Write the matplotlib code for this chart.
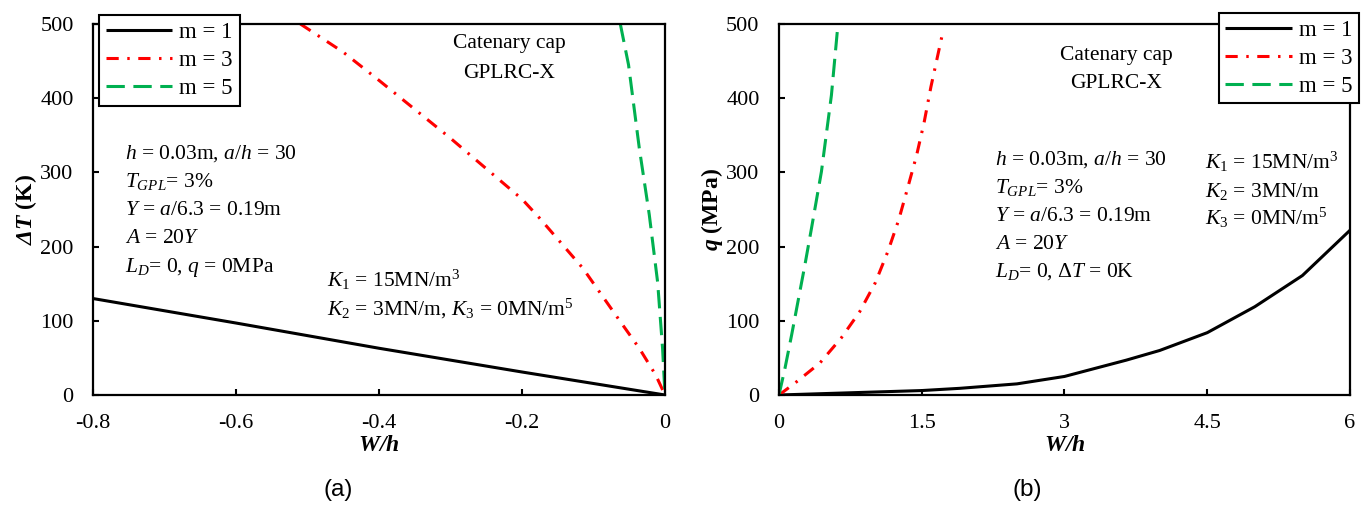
import matplotlib
matplotlib.use('Agg')
import matplotlib.pyplot as plt

# Panel (a): temperature rise vs deflection, q = 0
wa_m1 = [-0.8, -0.6, -0.4, -0.2, 0.0]
dT_m1 = [130, 97, 63, 31, 0]
wa_m3 = [-0.51, -0.45, -0.4, -0.3, -0.2, -0.176, -0.115, -0.064, -0.036, -0.013, 0.0]
dT_m3 = [500, 462, 424, 346, 264, 239, 171, 101, 63, 27, 0]
wa_m5 = [-0.0625, -0.051, -0.036, -0.022, -0.0103, -0.0034, 0.0]
dT_m5 = [500, 445, 333, 243, 152, 63, 0]

# Panel (b): load vs deflection, dT = 0
wb_m1 = [0.0, 0.75, 1.5, 1.9, 2.5, 3.0, 3.65, 4.0, 4.5, 5.0, 5.5, 6.0]
q_m1 = [0, 3, 6, 9, 15, 25, 47, 60, 84, 119, 161, 222]
wb_m3 = [0.0, 0.167, 0.429, 0.655, 0.847, 1.011, 1.143, 1.258, 1.352, 1.446, 1.526, 1.596, 1.718]
q_m3 = [0, 16, 43, 77, 112, 151, 193, 236, 279, 323, 368, 415, 487]
wb_m5 = [0.0, 0.063, 0.133, 0.272, 0.342, 0.446, 0.551, 0.62]
q_m5 = [0, 36, 81, 175, 225, 301, 404, 500]

labels = ['m = 1', 'm = 3', 'm = 5']
xticks_a = [-0.8, -0.6, -0.4, -0.2, 0.0]
xticklabels_a = ['-0.8', '-0.6', '-0.4', '-0.2', '0']
xticks_b = [0, 1.5, 3, 4.5, 6]
xticklabels_b = ['0', '1.5', '3', '4.5', '6']
yticks = [0, 100, 200, 300, 400, 500]

plt.rcParams['font.family'] = ['Liberation Serif', 'DejaVu Serif']
plt.rcParams['mathtext.fontset'] = 'custom'
plt.rcParams['mathtext.rm'] = 'Liberation Serif'
plt.rcParams['mathtext.it'] = 'Liberation Serif:italic'
plt.rcParams['mathtext.bf'] = 'Liberation Serif:bold'
plt.rcParams['mathtext.bfit'] = 'Liberation Serif:italic:bold'

FS = 15.5
LW = 2.2
styles = [dict(color='black', lw=LW, ls='-'),
          dict(color='#ff0000', lw=LW, ls=(0, (4, 2.8, 0.8, 2.8))),
          dict(color='#00b050', lw=LW, ls=(0, (6, 2.8)))]

fig = plt.figure(figsize=(13.7, 5.07), dpi=100)
ax1 = fig.add_axes([0.0679, 0.2209, 0.4175, 0.7318])
ax2 = fig.add_axes([0.5686, 0.2209, 0.4168, 0.7318])


def style_axes(ax, xticks, xticklabels):
    ax.set_ylim(0, 500)
    ax.set_xticks(xticks)
    ax.set_xticklabels(xticklabels)
    ax.set_yticks(yticks)
    for s in ax.spines.values():
        s.set_linewidth(1.6)
    ax.tick_params(direction='in', length=4.5, width=1.5, labelsize=FS + 0.5)
    ax.tick_params(axis='x', pad=14)
    ax.tick_params(axis='y', pad=14)
    ax.set_xlabel(r'$\mathbfit{W/h}$', fontsize=FS + 1.5, labelpad=1)


def add_legend(ax, anchor, loc):
    leg = ax.legend(loc=loc, bbox_to_anchor=anchor, borderaxespad=0,
                    fontsize=FS + 1, fancybox=False, edgecolor='black', framealpha=1,
                    handlelength=2.9, handletextpad=0.3, labelspacing=0.3, borderpad=0.3)
    leg.get_frame().set_linewidth(1.5)
    leg.set_zorder(5)


# (a)
for xs, ys, st, lab in zip([wa_m1, wa_m3, wa_m5], [dT_m1, dT_m3, dT_m5], styles, labels):
    ax1.plot(xs, ys, label=lab, solid_capstyle='butt', dash_capstyle='butt', **st)
ax1.set_xlim(-0.8, 0)
style_axes(ax1, xticks_a, xticklabels_a)
ax1.set_ylabel(r'$\mathbfit{\Delta T}$ (K)', fontsize=FS + 1.5, fontweight='bold', labelpad=1)
add_legend(ax1, (0.0105, 1.024), 'upper left')

tA = ax1.transAxes
ax1.text(0.728, 0.935, 'Catenary cap', transform=tA, fontsize=FS, ha='center', va='baseline')
ax1.text(0.728, 0.855, 'GPLRC-X', transform=tA, fontsize=FS, ha='center', va='baseline')
block_a = [r'$h$ = 0.03m, $a/h$ = 30',
           r'$T_{GPL}$= 3%',
           r'$Y$ = $a$/6.3 = 0.19m',
           r'$A$ = 20$Y$',
           r'$L_D$= 0, $q$ = 0MPa']
for txt, yb in zip(block_a, [0.636, 0.561, 0.485, 0.41, 0.332]):
    ax1.text(0.056, yb, txt, transform=tA, fontsize=FS, ha='left', va='baseline')
ax1.text(0.409, 0.291, r'$K_{\mathit{1}}$ = 15MN/m$^{3}$', transform=tA, fontsize=FS,
         ha='left', va='baseline')
ax1.text(0.409, 0.216, r'$K_{\mathit{2}}$ = 3MN/m, $K_{\mathit{3}}$ = 0MN/m$^{5}$', transform=tA,
         fontsize=FS, ha='left', va='baseline')

# (b)
for xs, ys, st, lab in zip([wb_m1, wb_m3, wb_m5], [q_m1, q_m3, q_m5], styles, labels):
    ax2.plot(xs, ys, label=lab, solid_capstyle='butt', dash_capstyle='butt', **st)
ax2.set_xlim(0, 6)
style_axes(ax2, xticks_b, xticklabels_b)
ax2.set_ylabel(r'$\mathbfit{q}$ (MPa)', fontsize=FS + 1.5, fontweight='bold', labelpad=1)
add_legend(ax2, (1.016, 1.03), 'upper right')

tB = ax2.transAxes
ax2.text(0.591, 0.903, 'Catenary cap', transform=tB, fontsize=FS, ha='center', va='baseline')
ax2.text(0.591, 0.827, 'GPLRC-X', transform=tB, fontsize=FS, ha='center', va='baseline')
block_b = [r'$h$ = 0.03m, $a/h$ = 30',
           r'$T_{GPL}$= 3%',
           r'$Y$ = $a$/6.3 = 0.19m',
           r'$A$ = 20$Y$',
           r'$L_D$= 0, $\mathit{\Delta T}$ = 0K']
for txt, yb in zip(block_b, [0.62, 0.544, 0.469, 0.394, 0.318]):
    ax2.text(0.378, yb, txt, transform=tB, fontsize=FS, ha='left', va='baseline')
block_k = [r'$K_{\mathit{1}}$ = 15MN/m$^{3}$',
           r'$K_{\mathit{2}}$ = 3MN/m',
           r'$K_{\mathit{3}}$ = 0MN/m$^{5}$']
for txt, yb in zip(block_k, [0.609, 0.534, 0.458]):
    ax2.text(0.746, yb, txt, transform=tB, fontsize=FS, ha='left', va='baseline')

fig.text(0.247, 0.022, '(a)', fontsize=17.5, family='Liberation Sans', ha='center', va='baseline')
fig.text(0.750, 0.022, '(b)', fontsize=17.5, family='Liberation Sans', ha='center', va='baseline')

fig.savefig('out.png', dpi=100)
